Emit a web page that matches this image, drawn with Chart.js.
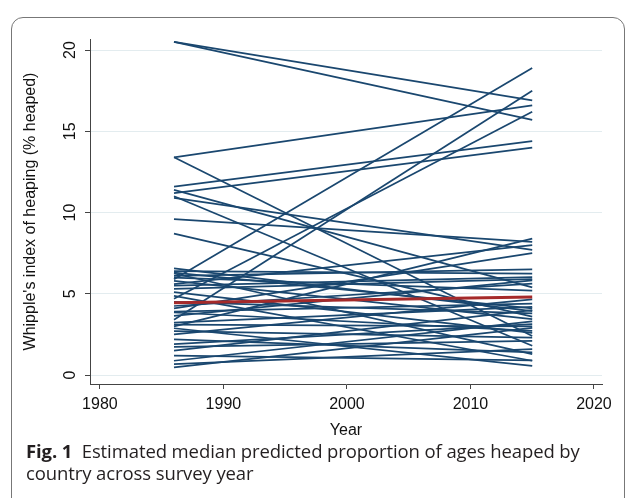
<!DOCTYPE html>
<html><head><meta charset="utf-8">
<script src="https://cdn.jsdelivr.net/npm/chart.js@4/dist/chart.umd.min.js"></script>
<style>
html,body{margin:0;padding:0;background:#fff;width:628px;height:498px;overflow:hidden;}
#frame{position:absolute;left:11px;top:17px;width:614px;height:520px;border:1.5px solid #777;border-radius:12px;box-sizing:border-box;}
#wrap{position:absolute;left:0;top:0;width:628px;height:445px;}
#cap{position:absolute;left:26px;top:440px;font-family:'Open Sans';font-size:18.5px;line-height:22px;color:#231f20;white-space:nowrap;letter-spacing:-0.1px;}
</style></head><body>
<div id="frame"></div>
<div id="wrap"><canvas id="c" width="628" height="445"></canvas></div>
<div id="cap"><b>Fig. 1</b>&nbsp; Estimated median predicted proportion of ages heaped by<br>country across survey year</div>
<script>
// survey years (first and last)
const years = [1986, 2015];
// Whipple's index per country at first and last year (same order)
const startValues = [20.5, 20.5, 13.4, 13.4, 11.6, 11.4, 11.2, 11.0, 10.9, 9.6, 8.7,
  5.9, 3.4, 4.7, 3.0, 5.6, 4.1, 6.56, 6.4, 6.25, 6.1, 5.8, 5.5, 4.87, 4.25, 3.85,
  3.64, 3.23, 2.88, 2.5, 1.9, 1.74, 1.5, 0.88, 0.67, 0.47,
  6.0, 5.3, 4.5, 3.9, 3.1, 2.7, 2.2, 1.2, 5.1, 6.3];
const endValues = [16.9, 15.7, 16.6, 2.4, 14.4, 5.4, 14.0, 1.8, 7.7, 8.2, 3.6,
  18.9, 17.5, 16.2, 8.4, 8.0, 7.5, 3.94, 6.24, 1.29, 6.5, 3.44, 6.03, 0.88, 5.63, 2.72,
  5.83, 4.19, 0.57, 4.66, 3.13, 2.1, 4.0, 3.3, 1.6, 2.9,
  5.2, 5.9, 3.8, 4.4, 3.0, 2.3, 1.4, 0.9, 2.6, 4.1];
// median line
const medianValues = [4.45, 4.8];
// axis ticks
const xTicks = [1980, 1990, 2000, 2010, 2020];
const yTicks = [0, 5, 10, 15, 20];

const navy = '#1a476f';
const red = '#a52a2a';

const datasets = [{
  label: 'Median',
  data: years.map((y, i) => ({x: y, y: medianValues[i]})),
  borderColor: red, borderWidth: 3, pointRadius: 0, order: 0, fill: false
}];
startValues.forEach((s, i) => {
  datasets.push({
    label: 'Country ' + (i + 1),
    data: [{x: years[0], y: s}, {x: years[1], y: endValues[i]}],
    borderColor: navy, borderWidth: 1.7, pointRadius: 0, order: 1, fill: false
  });
});

const fontFam = "'Liberation Sans', Arial, sans-serif";
new Chart(document.getElementById('c'), {
  type: 'line',
  data: {datasets},
  options: {
    responsive: false, animation: false, devicePixelRatio: 1,
    layout: {padding: {left: 12, right: 26, top: 39, bottom: 0}},
    plugins: {legend: {display: false}, tooltip: {enabled: false}},
    scales: {
      x: {
        type: 'linear', min: 1979.2, max: 2020.65,
        afterBuildTicks: s => { s.ticks = xTicks.map(v => ({value: v})); },
        afterFit: s => { s.height = 61; },
        grid: {drawOnChartArea: false, drawTicks: true, tickLength: 5, tickColor: '#444', lineWidth: 1},
        border: {display: true, color: '#444', width: 1},
        ticks: {padding: 6, color: '#111', font: {family: fontFam, size: 16}, maxRotation: 0, callback: v => String(v)},
        title: {display: true, text: 'Year', color: '#111', font: {family: fontFam, size: 16}, padding: {top: 0, bottom: 5}}
      },
      y: {
        type: 'linear', min: -0.55, max: 20.68,
        afterBuildTicks: s => { s.ticks = yTicks.map(v => ({value: v})); },
        afterFit: s => { s.width = 78; },
        grid: {color: '#e3ecef', lineWidth: 1, drawTicks: true, tickLength: 5, tickColor: '#444'},
        border: {display: true, color: '#444', width: 1},
        ticks: {padding: 6, color: '#111', font: {family: fontFam, size: 16}, minRotation: 90, maxRotation: 90, crossAlign: 'center', callback: v => String(v)},
        title: {display: true, text: "Whipple's index of heaping (% heaped)", color: '#111', font: {family: fontFam, size: 16}, padding: {top: 9, bottom: 0}}
      }
    }
  }
});
</script>
</body></html>
